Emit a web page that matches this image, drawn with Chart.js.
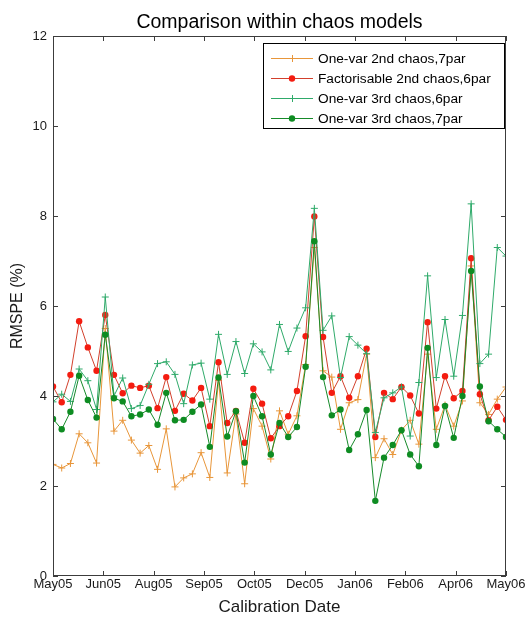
<!DOCTYPE html>
<html>
<head>
<meta charset="utf-8">
<script src="https://cdn.jsdelivr.net/npm/chart.js@4.4.1/dist/chart.umd.min.js"></script>
<style>
  html, body { margin: 0; padding: 0; background: #fff; }
  #wrap { width: 525px; height: 618px; }
</style>
</head>
<body>
<div id="wrap"><canvas id="chaosChart" width="525" height="618"></canvas></div>
<script>
// date tick labels, evenly spaced over the weekly calibrations
const dateTicks = ["May05", "Jun05", "Aug05", "Sep05", "Oct05", "Dec05", "Jan06", "Feb06", "Apr06", "May06"];
const yTicks = [0, 2, 4, 6, 8, 10, 12];

// RMSPE (%) per weekly calibration (53 weeks)
const oneVar2nd7par = [
  2.48, 2.40, 2.50, 3.16, 2.96, 2.51, 5.50, 3.22, 3.46, 3.02,
  2.73, 2.90, 2.37, 3.27, 1.98, 2.18, 2.27, 2.74, 2.19, 4.35,
  2.29, 3.60, 2.05, 3.72, 3.33, 2.60, 3.67, 3.15, 3.56, 4.70,
  7.30, 4.56, 4.42, 3.26, 3.85, 3.92, 4.93, 2.63, 3.05, 2.70,
  3.24, 3.46, 2.93, 4.93, 3.26, 3.80, 3.33, 3.89, 6.89, 3.85,
  3.59, 3.93, 4.20
];
const factorisable2nd6par = [
  4.21, 3.86, 4.47, 5.66, 5.08, 4.56, 5.80, 4.47, 4.06, 4.23,
  4.18, 4.23, 3.73, 4.42, 3.67, 4.05, 3.90, 4.18, 3.33, 4.75,
  3.40, 3.67, 2.96, 4.16, 3.83, 3.06, 3.33, 3.55, 4.11, 5.33,
  7.99, 5.31, 4.07, 4.44, 3.96, 4.44, 5.05, 3.09, 4.07, 3.93,
  4.20, 4.01, 3.61, 5.64, 3.72, 4.44, 3.95, 4.11, 7.06, 4.04,
  3.46, 3.76, 3.47
];
const oneVar3rd6par = [
  3.87, 4.04, 3.88, 4.60, 4.34, 3.70, 6.20, 4.00, 4.40, 3.72,
  3.79, 4.26, 4.72, 4.76, 4.48, 3.83, 4.69, 4.73, 3.93, 5.37,
  4.48, 5.21, 4.50, 5.16, 4.98, 4.58, 5.59, 4.99, 5.51, 5.96,
  8.17, 5.46, 5.78, 4.41, 5.32, 5.13, 4.94, 3.19, 3.96, 4.07,
  4.20, 3.11, 4.30, 6.67, 4.41, 5.70, 4.44, 5.79, 8.27, 4.72,
  4.93, 7.30, 7.11
];
const oneVar3rd7par = [
  3.49, 3.26, 3.65, 4.45, 3.91, 3.52, 5.36, 3.95, 3.88, 3.55,
  3.59, 3.70, 3.36, 4.07, 3.46, 3.47, 3.65, 3.81, 2.87, 4.41,
  3.10, 3.66, 2.52, 4.00, 3.55, 2.70, 3.40, 3.09, 3.31, 4.65,
  7.44, 4.42, 3.57, 3.70, 2.80, 3.15, 3.69, 1.67, 2.63, 2.91,
  3.24, 2.70, 2.44, 5.07, 2.91, 3.78, 3.07, 4.00, 6.78, 4.21,
  3.44, 3.26, 3.09
];

const lastWeek = oneVar2nd7par.length - 1;
const asPoints = (arr) => arr.map((v, i) => ({ x: i, y: v }));

const FONT = "'Liberation Sans', Arial, sans-serif";
const AXIS_COLOR = "#3c3c3c";

// title, axes box, inward ticks and the boxed legend (Matlab look)
const matlabFrame = {
  id: "matlabFrame",
  afterDraw(chart) {
    const ctx = chart.ctx;
    const a = chart.chartArea;
    const xs = chart.scales.x;
    const ys = chart.scales.y;

    ctx.save();
    ctx.fillStyle = "#000";
    ctx.font = "19.5px " + FONT;
    ctx.textAlign = "center";
    ctx.textBaseline = "alphabetic";
    ctx.fillText("Comparison within chaos models", (a.left + a.right) / 2, 28);

    ctx.strokeStyle = AXIS_COLOR;
    ctx.lineWidth = 1;
    ctx.strokeRect(a.left + 0.5, a.top + 0.5, a.right - a.left - 1, a.bottom - a.top - 1);

    const tl = 5;
    ctx.beginPath();
    xs.ticks.forEach((t) => {
      const px = Math.round(xs.getPixelForValue(t.value)) + 0.5;
      ctx.moveTo(px, a.bottom); ctx.lineTo(px, a.bottom - tl);
      ctx.moveTo(px, a.top); ctx.lineTo(px, a.top + tl);
    });
    ys.ticks.forEach((t) => {
      const py = Math.round(ys.getPixelForValue(t.value)) + 0.5;
      ctx.moveTo(a.left, py); ctx.lineTo(a.left + tl, py);
      ctx.moveTo(a.right, py); ctx.lineTo(a.right - tl, py);
    });
    ctx.stroke();

    // legend
    const sets = chart.data.datasets;
    ctx.font = "13.7px " + FONT;
    const maxW = Math.max(...sets.map((d) => ctx.measureText(d.label).width));
    const right = a.right - 1;
    const left = Math.round(right - (8 + 42 + 5 + maxW + 14));
    const top = a.top + 7;
    const rowH = 20;
    const h = sets.length * rowH + 6;
    ctx.fillStyle = "#fff";
    ctx.fillRect(left, top, right - left, h);
    ctx.strokeStyle = "#000";
    ctx.strokeRect(left + 0.5, top + 0.5, right - left - 1, h - 1);

    sets.forEach((d, k) => {
      const y = top + 15 + k * rowH;
      const x0 = left + 8;
      ctx.strokeStyle = d.borderColor;
      ctx.lineWidth = 1;
      ctx.beginPath();
      ctx.moveTo(x0, y + 0.5); ctx.lineTo(x0 + 42, y + 0.5);
      ctx.stroke();
      const cx = x0 + 21;
      if (d.pointStyle === "cross") {
        ctx.strokeStyle = d.pointBorderColor;
        ctx.beginPath();
        ctx.moveTo(cx + 0.5, y - 3); ctx.lineTo(cx + 0.5, y + 4);
        ctx.stroke();
      } else {
        ctx.fillStyle = d.pointBackgroundColor;
        ctx.beginPath();
        ctx.arc(cx, y + 0.5, d.pointRadius, 0, Math.PI * 2);
        ctx.fill();
      }
      ctx.fillStyle = "#000";
      ctx.textAlign = "left";
      ctx.textBaseline = "middle";
      ctx.fillText(d.label, x0 + 47, y + 1);
    });
    ctx.restore();
  },
};

const canvas = document.getElementById("chaosChart");
new Chart(canvas.getContext("2d"), {
  type: "line",
  data: {
    datasets: [
      {
        label: "One-var 2nd chaos,7par",
        data: asPoints(oneVar2nd7par),
        borderColor: "#e8963a",
        borderWidth: 1,
        pointStyle: "cross",
        pointRadius: 3.5,
        pointBorderColor: "#e8963a",
        pointBorderWidth: 1,
        order: 4,
      },
      {
        label: "Factorisable 2nd chaos,6par",
        data: asPoints(factorisable2nd6par),
        borderColor: "#d2402c",
        borderWidth: 1,
        pointStyle: "circle",
        pointRadius: 3.2,
        pointBackgroundColor: "#f41c10",
        pointBorderColor: "#f41c10",
        pointBorderWidth: 0,
        order: 3,
      },
      {
        label: "One-var 3rd chaos,6par",
        data: asPoints(oneVar3rd6par),
        borderColor: "#2faa6a",
        borderWidth: 1,
        pointStyle: "cross",
        pointRadius: 3.5,
        pointBorderColor: "#2faa6a",
        pointBorderWidth: 1,
        order: 2,
      },
      {
        label: "One-var 3rd chaos,7par",
        data: asPoints(oneVar3rd7par),
        borderColor: "#168a2a",
        borderWidth: 1,
        pointStyle: "circle",
        pointRadius: 3.2,
        pointBackgroundColor: "#0e8c22",
        pointBorderColor: "#0e8c22",
        pointBorderWidth: 0,
        order: 1,
      },
    ],
  },
  options: {
    responsive: false,
    animation: false,
    layout: { padding: { top: 36, right: 19, bottom: 0, left: 0 } },
    plugins: {
      legend: { display: false },
      title: { display: false },
      tooltip: { enabled: false },
    },
    scales: {
      x: {
        type: "linear",
        min: 0,
        max: lastWeek,
        grid: { display: false, drawTicks: false },
        border: { display: false },
        afterBuildTicks: (scale) => {
          scale.ticks = dateTicks.map((_, k) => ({ value: (k * lastWeek) / (dateTicks.length - 1) }));
        },
        afterFit: (scale) => {
          scale.height = 42;
          scale.paddingLeft = 0;
          scale.paddingRight = 0;
        },
        ticks: {
          autoSkip: false,
          maxRotation: 0,
          padding: 1,
          color: "#1a1a1a",
          font: { family: FONT, size: 13 },
          callback: (value, index) => dateTicks[index],
        },
        title: {
          display: true,
          text: "Calibration Date",
          color: "#1a1a1a",
          font: { family: FONT, size: 17 },
          padding: { top: 0, bottom: 0 },
        },
      },
      y: {
        min: 0,
        max: 12,
        grid: { display: false, drawTicks: false },
        border: { display: false },
        afterBuildTicks: (scale) => {
          scale.ticks = yTicks.map((v) => ({ value: v }));
        },
        afterFit: (scale) => {
          scale.width = 53;
          scale.paddingTop = 0;
          scale.paddingBottom = 0;
        },
        ticks: {
          padding: 6,
          color: "#1a1a1a",
          font: { family: FONT, size: 13 },
        },
        title: {
          display: true,
          text: "RMSPE (%)",
          color: "#1a1a1a",
          font: { family: FONT, size: 16 },
          padding: { top: 8, bottom: 0 },
        },
      },
    },
  },
  plugins: [matlabFrame],
});
</script>
</body>
</html>
